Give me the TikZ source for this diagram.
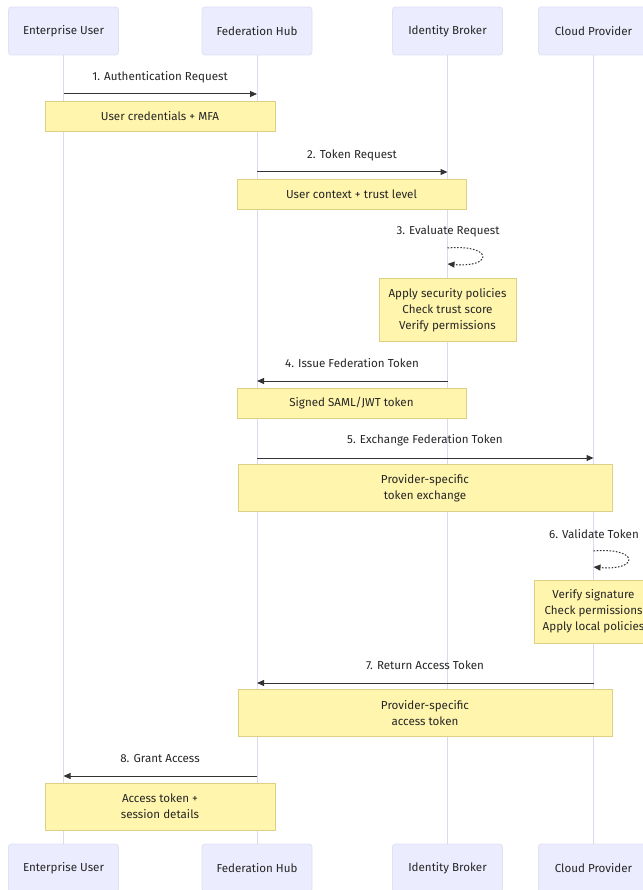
\documentclass[tikz,border=0pt]{standalone}
\usepackage{fontspec}
\setmainfont{Fira Sans}
\usetikzlibrary{arrows.meta}
\definecolor{actorfill}{HTML}{ECECFF}
\definecolor{actorline}{HTML}{E0E0F4}
\definecolor{lifecol}{HTML}{DADAEA}
\definecolor{notefill}{HTML}{FFF5AD}
\definecolor{noteline}{HTML}{DDD084}
\definecolor{ink}{HTML}{262626}
\definecolor{arrowink}{HTML}{333333}
\begin{document}
\begin{tikzpicture}[x=1pt,y=-1pt,
  txt/.style={font=\fontsize{11.6}{16}\selectfont, text=ink},
  actor/.style={txt, draw=actorline, line width=0.8pt, rounded corners=3pt, fill=actorfill, minimum width=110pt, minimum height=48pt, inner sep=0pt},
  note/.style={txt, draw=noteline, line width=0.8pt, fill=notefill, align=center, inner sep=0pt},
  msg/.style={draw=arrowink, line width=1pt, -{Triangle[length=7pt,width=6pt]}},
  selfmsg/.style={draw=arrowink, line width=1pt, dash pattern=on 1.6pt off 1.6pt, -{Triangle[length=7pt,width=6pt]}},
  lbl/.style={txt, inner sep=0pt},
  life/.style={draw=lifecol, line width=1pt}]
\useasboundingbox (0,0) rectangle (642,890);
\fill[white] (0,0) rectangle (642,890);

% actors
\node[actor] (eu) at (63.5,31) {Enterprise User};
\node[actor] (fh) at (257,31) {Federation Hub};
\node[actor] (ib) at (447.5,31) {Identity Broker};
\node[actor] (cp) at (593.5,31) {Cloud Provider};
\node[actor] (eub) at (63.5,868) {Enterprise User};
\node[actor] (fhb) at (257,868) {Federation Hub};
\node[actor] (ibb) at (447.5,868) {Identity Broker};
\node[actor] (cpb) at (593.5,868) {Cloud Provider};

% lifelines
\draw[life] (eu.south) -- (eub.north);
\draw[life] (fh.south) -- (fhb.north);
\draw[life] (ib.south) -- (ibb.north);
\draw[life] (cp.south) -- (cpb.north);

% notes
\node[note, minimum width=230pt, minimum height=30pt] (n1) at (160,116) {User credentials + MFA};
\node[note, minimum width=229pt, minimum height=30pt] (n2) at (351.5,194) {User context + trust level};
\node[note, minimum width=137pt, minimum height=63pt] (n3) at (447.5,310) {Apply security policies\\Check trust score\\Verify permissions};
\node[note, minimum width=229pt, minimum height=30pt] (n4) at (351.5,403) {Signed SAML/JWT token};
\node[note, minimum width=374pt, minimum height=47pt] (n5) at (425,488) {Provider-specific\\token exchange};
\node[note, minimum width=118pt, minimum height=63pt] (n6) at (593.5,611.5) {Verify signature\\Check permissions\\Apply local policies};
\node[note, minimum width=374pt, minimum height=47pt] (n7) at (425,713) {Provider-specific\\access token};
\node[note, minimum width=230pt, minimum height=47pt] (n8) at (160,806.5) {Access token +\\session details};

% message anchor points
\coordinate (m1a) at (63.5,94);  \coordinate (m1b) at (257,94);
\coordinate (m2a) at (257,172);  \coordinate (m2b) at (447.5,172);
\coordinate (m3a) at (447.5,248); \coordinate (m3b) at (447.5,264);
\coordinate (m4a) at (447.5,381); \coordinate (m4b) at (257,381);
\coordinate (m5a) at (257,458);  \coordinate (m5b) at (593.5,458);
\coordinate (m6a) at (593.5,551); \coordinate (m6b) at (593.5,567);
\coordinate (m7a) at (593.5,683); \coordinate (m7b) at (257,683);
\coordinate (m8a) at (257,776);  \coordinate (m8b) at (63.5,776);

% messages
\draw[msg] (m1a) -- (m1b);
\node[lbl] (l1) at (160,77) {1. Authentication Request};
\draw[msg] (m2a) -- (m2b);
\node[lbl] (l2) at (352,155) {2. Token Request};
\draw[selfmsg] (m3a) .. controls +(46,-4) and +(46,4) .. (m3b);
\node[lbl] (l3) at (448,231) {3. Evaluate Request};
\draw[msg] (m4a) -- (m4b);
\node[lbl] (l4) at (352,363) {4. Issue Federation Token};
\draw[msg] (m5a) -- (m5b);
\node[lbl] (l5) at (425,440) {5. Exchange Federation Token};
\draw[selfmsg] (m6a) .. controls +(46,-4) and +(46,4) .. (m6b);
\node[lbl] (l6) at (594,534) {6. Validate Token};
\draw[msg] (m7a) -- (m7b);
\node[lbl] (l7) at (425,665) {7. Return Access Token};
\draw[msg] (m8a) -- (m8b);
\node[lbl] (l8) at (160,758) {8. Grant Access};
\end{tikzpicture}
\end{document}
